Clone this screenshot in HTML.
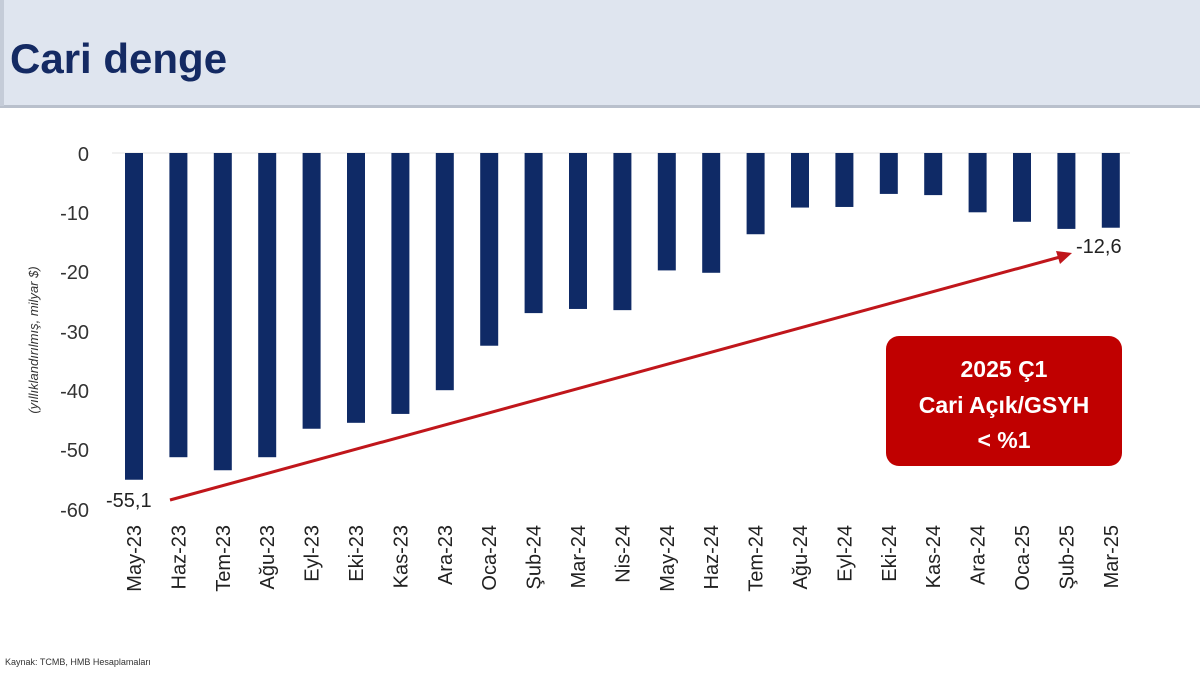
<!DOCTYPE html>
<html><head><meta charset="utf-8"><style>
body{margin:0;width:1200px;height:675px;background:#fff;overflow:hidden;font-family:"Liberation Sans","DejaVu Sans",sans-serif}
</style></head><body>
<svg width="1200" height="675" xmlns="http://www.w3.org/2000/svg" font-family="Liberation Sans, DejaVu Sans, sans-serif">
<rect x="0" y="0" width="1200" height="106" fill="#dfe5ef"/>
<rect x="0" y="105" width="1200" height="3" fill="#b9c0cc"/>
<rect x="0" y="0" width="4" height="106" fill="#c5ccd8"/>
<text x="10" y="73" font-size="42" font-weight="bold" fill="#142a63">Cari denge</text>
<g font-size="20" fill="#333" text-anchor="end">
<text x="89" y="161">0</text><text x="89" y="220">-10</text><text x="89" y="279">-20</text>
<text x="89" y="339">-30</text><text x="89" y="398">-40</text><text x="89" y="457">-50</text><text x="89" y="517">-60</text>
</g>
<text transform="translate(38,340) rotate(-90)" font-size="13" font-style="italic" fill="#333" text-anchor="middle">(yıllıklandırılmış, milyar $)</text>
<line x1="112" y1="153" x2="1130" y2="153" stroke="#e3e3e3"/>
<g id="bars" fill="#0f2a66"></g>
<g id="labels" font-size="20" fill="#222"></g>
<line x1="170" y1="500" x2="1060" y2="257" stroke="#c0161b" stroke-width="3"/>
<polygon points="1072,253 1056,251 1060,264" fill="#c0161b"/>
<text x="106" y="507" font-size="20" fill="#222">-55,1</text>
<text x="1076" y="253" font-size="20" fill="#222">-12,6</text>
<rect x="886" y="336" width="236" height="130" rx="13" fill="#c00000"/>
<g font-size="23" font-weight="bold" fill="#fff" text-anchor="middle">
<text x="1004" y="377">2025 Ç1</text><text x="1004" y="413">Cari Açık/GSYH</text><text x="1004" y="448">&lt; %1</text>
</g>
<text x="5" y="665" font-size="9" fill="#333">Kaynak: TCMB, HMB Hesaplamaları</text>
<script>
var v=[-55.1,-51.3,-53.5,-51.3,-46.5,-45.5,-44,-40,-32.5,-27,-26.3,-26.5,-19.8,-20.2,-13.7,-9.2,-9.1,-6.9,-7.1,-10,-11.6,-12.8,-12.6];
var m=["May-23","Haz-23","Tem-23","Ağu-23","Eyl-23","Eki-23","Kas-23","Ara-23","Oca-24","Şub-24","Mar-24","Nis-24","May-24","Haz-24","Tem-24","Ağu-24","Eyl-24","Eki-24","Kas-24","Ara-24","Oca-25","Şub-25","Mar-25"];
var ns="http://www.w3.org/2000/svg",b=document.getElementById("bars"),l=document.getElementById("labels");
for(var i=0;i<23;i++){var c=134+i*44.4;var r=document.createElementNS(ns,"rect");
r.setAttribute("x",c-9);r.setAttribute("y",153);r.setAttribute("width",18);r.setAttribute("height",-v[i]*5.93);b.appendChild(r);
var t=document.createElementNS(ns,"text");t.setAttribute("transform","translate("+(c+7)+",525) rotate(-90)");t.setAttribute("text-anchor","end");t.textContent=m[i];l.appendChild(t);}
</script>
</svg>
</body></html>
